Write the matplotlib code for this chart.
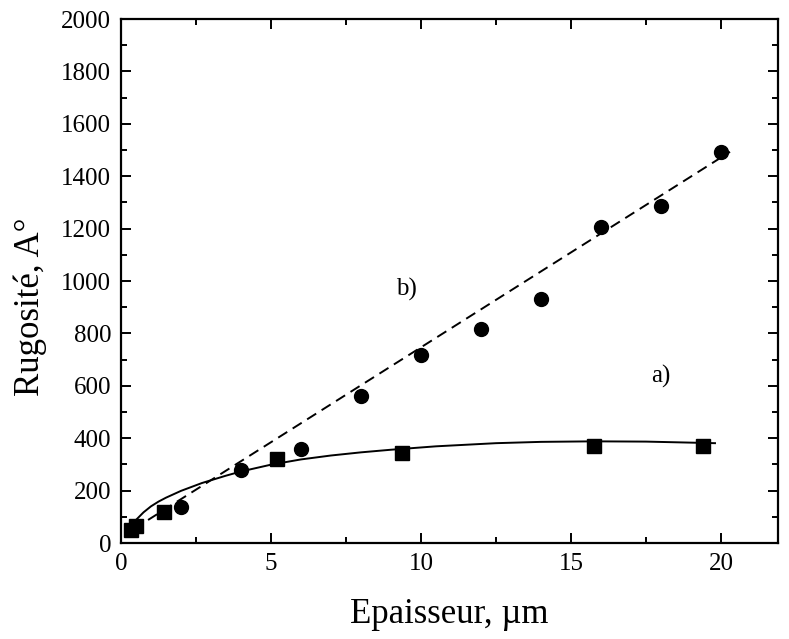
import numpy as np
import matplotlib
matplotlib.use("Agg")
import matplotlib.pyplot as plt
from matplotlib.ticker import MultipleLocator

plt.rcParams['font.family'] = ['Liberation Serif', 'DejaVu Serif']

# series a) (squares) and its solid fit curve
a_x = [0.33, 0.51, 1.44, 5.2, 9.35, 15.78, 19.4]
a_y = [49, 66, 120, 321, 344, 370, 370]
a_fit_x = [0.35, 0.5, 0.75, 1.0, 1.25, 1.5, 2.0, 2.7, 3.5, 4.0, 5.0, 6.0, 7.0,
           8.0, 9.0, 10.5, 12.5, 14.0, 15.75, 17.5, 19.8]
a_fit_y = [66, 88, 117, 140, 158, 173, 199, 229, 257, 273, 299, 319, 334,
           346, 356, 369, 381, 386, 388, 387, 381]

# series b) (circles) and its dashed linear fit
b_x = [2, 4, 6, 8, 10, 12, 14, 16, 18, 20]
b_y = [138, 279, 358, 561, 718, 815, 931, 1208, 1287, 1494]
b_fit_x = [0.42, 20.3]
b_fit_y = [53, 1493]

fig = plt.figure(figsize=(7.89, 6.39), dpi=100)
ax = fig.add_axes([121 / 789, 1 - 543 / 639, 657 / 789, 524 / 639])

ax.plot(a_fit_x, a_fit_y, color='black', lw=1.4, solid_joinstyle='round')
ax.plot(b_fit_x, b_fit_y, color='black', lw=1.4, linestyle=(0, (5.5, 3.3)))
ax.plot(a_x, a_y, linestyle='none', marker='s', ms=9.5, color='black')
ax.plot(b_x, b_y, linestyle='none', marker='o', ms=10, color='black')

ax.text(9.5, 967, 'b)', fontsize=18, ha='center', va='center')
ax.text(18.0, 635, 'a)', fontsize=18, ha='center', va='center')

ax.set_xlim(0, 21.9)
ax.set_ylim(0, 2000)
ax.xaxis.set_major_locator(MultipleLocator(5))
ax.xaxis.set_minor_locator(MultipleLocator(2.5))
ax.yaxis.set_major_locator(MultipleLocator(200))
ax.yaxis.set_minor_locator(MultipleLocator(100))
ax.tick_params(which='both', direction='in', top=True, right=True, width=1.4)
ax.tick_params(which='major', length=7, labelsize=18, pad=7)
ax.tick_params(which='minor', length=4)
for s in ax.spines.values():
    s.set_linewidth(1.6)

ax.set_xlabel('Epaisseur, µm', fontsize=25)
ax.set_ylabel('Rugosité, A°', fontsize=25)
ax.xaxis.set_label_coords(0.5, -0.105)
ax.yaxis.set_label_coords(-0.112, 0.45)

fig.savefig('out.png', dpi=100)
